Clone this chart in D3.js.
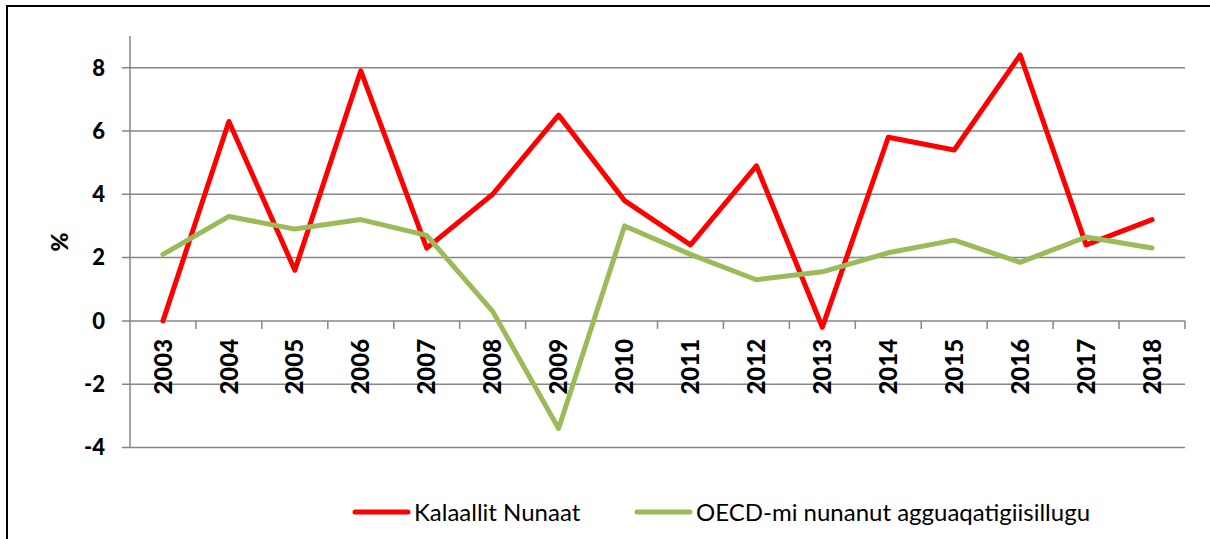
<!DOCTYPE html>
<html>
<head>
<meta charset="utf-8">
<script src="https://cdn.jsdelivr.net/npm/d3@7"></script>
<style>
  body { margin: 0; background: #fff; }
  svg { display: block; font-family: Lato, "Open Sans", sans-serif; }
</style>
</head>
<body>
<svg id="chart" width="1210" height="539"></svg>
<script>
const years = ['2003','2004','2005','2006','2007','2008','2009','2010','2011','2012','2013','2014','2015','2016','2017','2018'];
const kalaallit = [0, 6.3, 1.6, 7.9, 2.3, 4.0, 6.5, 3.8, 2.4, 4.9, -0.2, 5.8, 5.4, 8.4, 2.4, 3.2];
const oecd = [2.1, 3.3, 2.9, 3.2, 2.7, 0.3, -3.4, 3.0, 2.1, 1.3, 1.55, 2.15, 2.55, 1.85, 2.65, 2.3];
const yTicks = [-4, -2, 0, 2, 4, 6, 8];
const seriesNames = ['Kalaallit Nunaat', 'OECD-mi nunanut agguaqatigiisillugu'];
const seriesColors = ['#ff0000', '#9bbb59'];

const svg = d3.select('#chart');
const plotLeft = 130, plotRight = 1185, plotTop = 36, plotBottom = 447.5;

// chart frame
svg.append('rect')
  .attr('x', 7).attr('y', 6)
  .attr('width', 1220).attr('height', 560)
  .attr('fill', 'none').attr('stroke', '#000').attr('stroke-width', 2);

const x = d3.scaleBand().domain(years).range([plotLeft, plotRight]);
const y = d3.scaleLinear().domain([-4, 9]).range([plotBottom, plotTop]);

// gridlines
svg.append('g').selectAll('line')
  .data(yTicks)
  .enter().append('line')
  .attr('x1', plotLeft - 8).attr('x2', plotRight)
  .attr('y1', d => y(d)).attr('y2', d => y(d))
  .attr('stroke', '#868686').attr('stroke-width', 1.5);

// y axis line
svg.append('line')
  .attr('x1', plotLeft).attr('x2', plotLeft)
  .attr('y1', plotTop).attr('y2', plotBottom)
  .attr('stroke', '#868686').attr('stroke-width', 1.5);

// y labels
svg.append('g').selectAll('text')
  .data(yTicks)
  .enter().append('text')
  .attr('x', 105).attr('y', d => y(d))
  .attr('dy', '0.36em')
  .attr('text-anchor', 'end')
  .style('font-size', '22px').style('font-weight', 900)
  .text(d => d);

// x tick marks at zero line
const y0 = y(0);
const bounds = years.map(d => x(d)).concat([plotRight]).slice(1);
svg.append('g').selectAll('line')
  .data(bounds)
  .enter().append('line')
  .attr('x1', d => d).attr('x2', d => d)
  .attr('y1', y0).attr('y2', y0 + 8)
  .attr('stroke', '#868686').attr('stroke-width', 1.5);

// x labels
svg.append('g').selectAll('text')
  .data(years)
  .enter().append('text')
  .attr('transform', d => 'translate(' + (x(d) + x.bandwidth() / 2) + ',' + (y0 + 18) + ') rotate(-90)')
  .attr('dy', '0.36em')
  .attr('text-anchor', 'end')
  .style('font-size', '24px').style('font-weight', 900)
  .text(d => d);

// axis title
svg.append('text')
  .attr('transform', 'translate(60,242) rotate(-90)')
  .attr('text-anchor', 'middle')
  .attr('dy', '0.36em')
  .style('font-size', '23px').style('font-weight', 900)
  .text('%');

const line = d3.line()
  .x((d, i) => x(years[i]) + x.bandwidth() / 2)
  .y(d => y(d));

[kalaallit, oecd].forEach((s, i) => {
  svg.append('path')
    .datum(s)
    .attr('d', line)
    .attr('fill', 'none')
    .attr('stroke', seriesColors[i])
    .attr('stroke-width', 5)
    .attr('stroke-linejoin', 'round')
    .attr('stroke-linecap', 'round');
});

// legend
const legendX = [355, 637];
const legend = svg.append('g').selectAll('g')
  .data(seriesNames)
  .enter().append('g')
  .attr('transform', (d, i) => 'translate(' + legendX[i] + ',512)');
legend.append('line')
  .attr('x1', 0).attr('x2', 53)
  .attr('stroke', (d, i) => seriesColors[i])
  .attr('stroke-width', 5).attr('stroke-linecap', 'round');
legend.append('text')
  .attr('x', 59).attr('dy', '0.36em')
  .style('font-size', '24px')
  .text(d => d);
</script>
</body>
</html>
